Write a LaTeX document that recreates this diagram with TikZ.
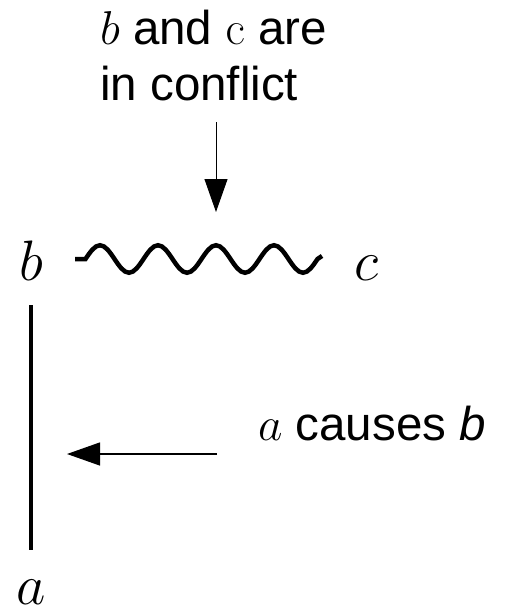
\RequirePackage{fix-cm}
\documentclass[tikz,border=0pt]{standalone}
\usepackage[no-math]{fontspec}
\setmainfont{Liberation Sans}
\usetikzlibrary{arrows.meta}
\begin{document}
\begin{tikzpicture}[x=1pt,y=-1pt,
  lbl/.style={font=\fontsize{57}{62}\selectfont, inner sep=0pt, anchor=base},
  txt/.style={font=\fontsize{47.5}{57}\selectfont, inner sep=0pt, anchor=base west},
  tipline/.style={-{Triangle[length=33pt,width=23pt]}},
  heavy/.style={line width=4.5pt},
]
\useasboundingbox (0,0) rectangle (504,610);
% texts
\node[txt] (t1) at (100,45) {$b$ and $\mathrm{c}$ are};
\node[txt] (t2) at (100,100) {in conflict};
\node[txt] (cause) at (258,440) {$a$ causes \textit{b}};
% labels
\node[lbl] (b) at (31,280) {$b$};
\node[lbl] (c) at (367,280) {$c$};
\node[lbl] (a) at (31,604) {$a$};
% coordinates
\coordinate (ts) at (216,122);
\coordinate (te) at (216,212);
\coordinate (ls) at (217,454);
\coordinate (le) at (67,454);
\coordinate (ws) at (75,259);
\coordinate (w0) at (85.5,259);
\coordinate (we) at (322,256);
% connectors
\draw[tipline, line width=1pt] (ts) -- (te);
\draw[tipline, line width=1.3pt] (ls) -- (le);
\draw[heavy, shorten <=25pt, shorten >=29pt] (b.south) -- (a.north);
\draw[heavy, line cap=butt]
  (ws) -- (w0)
  sin ++(14.5,-13.75) cos ++(14.5,13.75) sin ++(14.5,13.75) cos ++(14.5,-13.75)
  sin ++(14.5,-13.75) cos ++(14.5,13.75) sin ++(14.5,13.75) cos ++(14.5,-13.75)
  sin ++(14.5,-13.75) cos ++(14.5,13.75) sin ++(14.5,13.75) cos ++(14.5,-13.75)
  sin ++(14.5,-13.75) cos ++(14.5,13.75) sin ++(14.5,13.75) cos ++(14.5,-13.75)
  -- (we);
\end{tikzpicture}
\end{document}
